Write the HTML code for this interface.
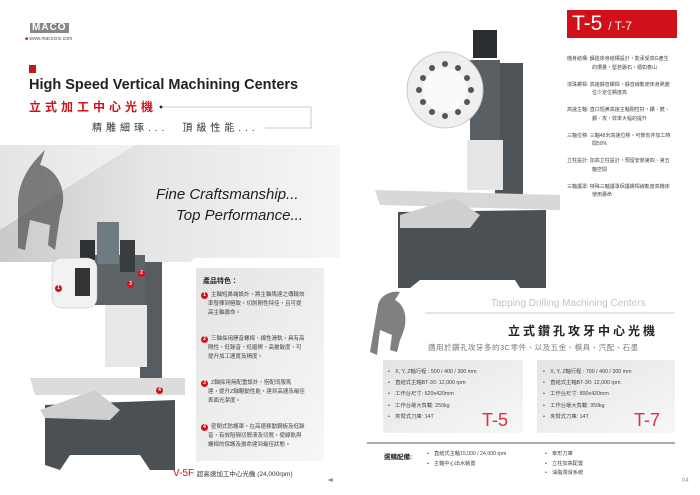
<!DOCTYPE html>
<html><head><meta charset="utf-8"><style>
*{margin:0;padding:0;box-sizing:border-box}
body{width:700px;height:495px;background:#fff;position:relative;overflow:hidden;font-family:"Liberation Sans","Noto Sans CJK TC",sans-serif;color:#333}
.a{position:absolute;white-space:nowrap}
.cjk{font-family:"Liberation Sans","Noto Sans CJK TC",sans-serif}
.sm{font-size:5.5px;line-height:9px;color:#444}
.num{display:inline-block;width:7px;height:7px;border-radius:50%;background:#d0101b;color:#fff;font-size:5px;line-height:7px;text-align:center;font-weight:bold;margin-right:3px}
</style></head><body>
<svg class="a" style="left:0;top:0" width="700" height="495">
<defs>
<linearGradient id="g1" x1="0" y1="0" x2="1" y2="0"><stop offset="0" stop-color="#c9c9c9"/><stop offset=".45" stop-color="#e6e6e6"/><stop offset="1" stop-color="#f6f6f6"/></linearGradient>
<linearGradient id="g2" x1="0" y1="0" x2="1" y2="1"><stop offset="0" stop-color="#e4e4e4"/><stop offset="1" stop-color="#f7f7f7"/></linearGradient>
</defs>
<polygon points="0,145 340,145 340,258 195,258 190,262 0,262" fill="url(#g1)"/>
<polygon points="0,145 135,145 0,230" fill="#fff" opacity=".5"/>
<rect x="196" y="268" width="128" height="193" fill="url(#g2)"/>
<rect x="383" y="360" width="140" height="73" fill="url(#g2)"/>
<rect x="537" y="360" width="138" height="73" fill="url(#g2)"/>
<line x1="425" y1="313" x2="675" y2="313" stroke="#ccc" stroke-width="1"/>
<line x1="367" y1="443" x2="675" y2="443" stroke="#777" stroke-width="1.2"/>
<polyline points="162,107 311,107 311,128 265,128" fill="none" stroke="#bbb" stroke-width=".8"/>
<circle cx="161" cy="107" r="1.4" fill="#222"/>
<path d="M18,200 C20,175 35,160 45,150 L40,165 C55,168 70,190 60,215 L55,250 L48,245 L50,225 L30,220 L25,250 L18,248 Z" fill="#555" opacity=".75"/>
<!-- left machine -->
<polygon points="45,405 175,400 175,470 150,470 140,455 70,455 60,470 45,465" fill="#4b5055"/>
<polygon points="140,262 162,262 162,380 175,395 140,395" fill="#575c61"/>
<rect x="95" y="255" width="50" height="50" fill="#5e6368"/>
<rect x="97" y="222" width="22" height="42" fill="#6f7b82"/>
<rect x="120" y="240" width="15" height="32" fill="#3a3d40"/>
<rect x="80" y="240" width="15" height="20" fill="#2f3235"/>
<rect x="52" y="258" width="45" height="50" rx="10" fill="#f2f2f2" stroke="#bbb" stroke-width=".5"/>
<rect x="75" y="268" width="15" height="28" fill="#333"/>
<rect x="105" y="305" width="42" height="62" fill="#e8e8e8"/>
<polygon points="30,378 185,378 185,395 35,395" fill="#dcdcdc"/>
<polygon points="40,410 95,390 120,410 110,420 45,418" fill="#cfcfcf"/>
<!-- right machine -->
<polygon points="398,212 546,210 546,288 520,288 515,280 420,280 410,288 398,288" fill="#4b5055"/>
<rect x="495" y="63" width="28" height="145" fill="#4f5459"/>
<rect x="470" y="60" width="30" height="110" fill="#5a5f64"/>
<rect x="473" y="30" width="24" height="28" fill="#2b2e31"/>
<rect x="467" y="140" width="36" height="50" fill="#e6e6e6"/>
<circle cx="445" cy="90" r="38" fill="#efefef" stroke="#c8c8c8"/>
<circle cx="445" cy="90" r="22" fill="#fafafa"/>
<g fill="#555"><circle cx="445" cy="64" r="3"/><circle cx="458" cy="68" r="3"/><circle cx="467" cy="78" r="3"/><circle cx="471" cy="90" r="3"/><circle cx="467" cy="102" r="3"/><circle cx="458" cy="112" r="3"/><circle cx="445" cy="116" r="3"/><circle cx="432" cy="112" r="3"/><circle cx="423" cy="102" r="3"/><circle cx="419" cy="90" r="3"/><circle cx="423" cy="78" r="3"/><circle cx="432" cy="68" r="3"/></g>
<polygon points="375,190 560,195 560,210 380,205" fill="#d8d8d8"/>
<polygon points="400,215 455,198 480,215 470,228 400,228" fill="#cfcfcf"/>
<path d="M378,305 C380,295 392,290 400,292 L395,300 C405,305 410,320 400,340 L397,352 L390,350 L392,335 L380,330 L377,355 L370,352 Z" fill="#555" opacity=".75"/>
<polygon points="333,478 327,480 333,482" fill="#999"/>
</svg>
<div class="a" style="left:30px;top:23px;font-size:10px;font-weight:bold;color:#fff;background:#888;padding:0 2px;letter-spacing:1px;line-height:10px">MACO</div>
<div class="a" style="left:25px;top:36px;font-size:5px;color:#555"><span style="color:#d0101b">■</span> www.macocnc.com</div>
<div class="a" style="left:29px;top:65px;width:7px;height:8px;background:#d0101b"></div>
<div class="a" style="left:29px;top:77px;font-size:14.5px;font-weight:bold;color:#222">High Speed Vertical Machining Centers</div>
<div class="a cjk" style="left:29px;top:98px;font-size:12px;font-weight:bold;color:#d0101b;letter-spacing:4px">立式加工中心光機</div>
<div class="a cjk" style="left:92px;top:119px;font-size:10px;color:#333;letter-spacing:4px">精雕細琢...　頂級性能...</div>
<div class="a" style="left:156px;top:186px;font-size:15px;font-style:italic;color:#222">Fine Craftsmanship...</div>
<div class="a" style="left:176px;top:207px;font-size:15px;font-style:italic;color:#222">Top Performance...</div>
<div class="a" style="left:55px;top:276px"><span class="num">1</span></div>
<div class="a" style="left:138px;top:261px"><span class="num">2</span></div>
<div class="a" style="left:127px;top:272px"><span class="num">3</span></div>
<div class="a" style="left:156px;top:378px"><span class="num">4</span></div>
<div class="a" style="left:203px;top:276px;font-size:7px;font-weight:bold;color:#222">產品特色：</div>
<div class="a sm" style="left:201px;top:291px"><span class="num">1</span>主軸短鼻端設計，將主軸馬達之傳輸效<br>　 率發揮到極致，切削剛性特佳，且可提<br>　 高主軸壽命。</div>
<div class="a sm" style="left:201px;top:335px"><span class="num">2</span>三軸採用靜音螺桿、線性滑軌，具有高<br>　 剛性、低躁音、低磨擦、高靈敏度，可<br>　 提升加工速度及精度。</div>
<div class="a sm" style="left:201px;top:379px"><span class="num">3</span>Z軸採用無配重設計，搭配伺服馬<br>　 達，提升Z軸驅動性能，達到高速及最佳<br>　 表面光潔度。</div>
<div class="a sm" style="left:201px;top:423px"><span class="num">4</span>密閉式防護罩，在高速移動鋼板及低躁<br>　 音，有效阻隔切屑液及切屑，使線軌與<br>　 螺桿的保護及壽命達到最佳狀態。</div>
<div class="a" style="left:173px;top:468px;font-size:10px;color:#d0101b">V-5F <span style="font-size:6.5px;color:#333">超高速加工中心光機 (24,000rpm)</span></div>
<div class="a" style="left:567px;top:10px;width:110px;height:28px;background:#d0101b;color:#fff;font-size:21px;line-height:28px;padding-left:5px">T-5 <span style="font-size:12px">/ T-7</span></div>
<div class="a sm cjk" style="left:567px;top:55px;line-height:8.5px;font-size:5px">機身結構: 鑄造床身結構設計，能承受高G產生<br>　　　　　的慣量，堅若磐石，穩如泰山<br><br>滾珠螺桿: 高速靜音螺桿，靜音線軌使床身熱變<br>　　　　　位少定位精度高<br><br>高速主軸: 直口短鼻高速主軸剛性好，鑽、銑、<br>　　　　　鏍、攻，效率大幅的提升<br><br>三軸位移: 三軸48米高速位移，可節省非加工時<br>　　　　　間50%<br><br>立柱設計: 加高立柱設計，預留安裝第四、第五<br>　　　　　軸空間<br><br>三軸護罩: 特殊三軸護罩保護螺桿線軌度高機床<br>　　　　　使用壽命</div>
<div class="a" style="left:491px;top:298px;font-size:10px;color:#c4c4c4">Tapping Drilling Machining Centers</div>
<div class="a cjk" style="left:508px;top:322px;font-size:12px;font-weight:bold;color:#222;letter-spacing:3px">立式鑽孔攻牙中心光機</div>
<div class="a cjk" style="left:428px;top:342px;font-size:7.5px;color:#777;letter-spacing:.5px">適用於鑽孔攻牙多的3C零件、以及五金、模具、汽配、石墨</div>
<div class="a sm" style="left:388px;top:367px;line-height:11.2px;font-size:5.3px">•　X, Y, Z軸行程 : 500 / 400 / 300 mm<br>•　直結式主軸BT-30: 12,000 rpm<br>•　工作台尺寸: 620x420mm<br>•　工作台最大負載: 250kg<br>•　夾臂式刀庫: 14T</div>
<div class="a sm" style="left:543px;top:367px;line-height:11.2px;font-size:5.3px">•　X, Y, Z軸行程 : 700 / 400 / 300 mm<br>•　直結式主軸BT-30: 12,000 rpm<br>•　工作台尺寸: 800x420mm<br>•　工作台最大負載: 350kg<br>•　夾臂式刀庫: 14T</div>
<div class="a" style="left:482px;top:410px;font-size:18px;color:#e0303a">T-5</div>
<div class="a" style="left:634px;top:410px;font-size:18px;color:#e0303a">T-7</div>
<div class="a" style="left:384px;top:451px;font-size:6.5px;font-weight:bold;color:#222">選購配備:</div>
<div class="a sm" style="left:427px;top:450px;line-height:9.5px;font-size:5.2px">•　直結式主軸15,000 / 24,000 rpm<br>•　主軸中心出水裝置</div>
<div class="a sm" style="left:545px;top:450px;line-height:9.5px;font-size:5.2px">•　傘形刀庫<br>•　立柱加高配置<br>•　油脂潤滑系統</div>
<div class="a" style="left:682px;top:478px;font-size:6px;color:#999">04</div>
</body></html>
